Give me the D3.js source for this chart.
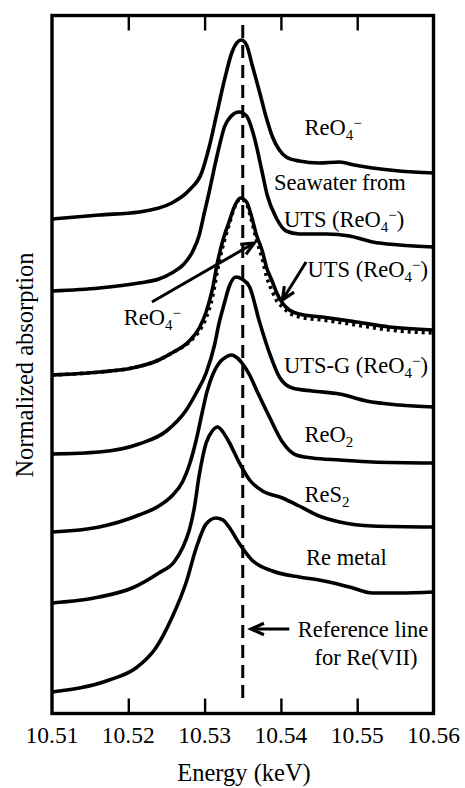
<!DOCTYPE html>
<html><head><meta charset="utf-8">
<script src="https://cdn.jsdelivr.net/npm/d3@7"></script>
<style>html,body{margin:0;padding:0;background:#fff}</style>
</head><body><div id="chart"></div>
<script>
// ---- data (energy in keV, normalized absorption with vertical offsets) ----
const xTicks = [10.51, 10.52, 10.53, 10.54, 10.55, 10.56];
const xTickLabels = ["10.51", "10.52", "10.53", "10.54", "10.55", "10.56"];
const refEnergy = 10.535;

const E1 = [10.510,10.5162,10.5214,10.5257,10.5280,10.5296,10.5306,10.5315,10.5326,10.5336,10.5348,10.5355,10.5362,10.5372,10.5381,10.5389,10.5398,10.5407,10.5424,10.5450,10.5477,10.5496,10.5520,10.5555,10.5600];
const A1 = [4.94,4.98,5.01,5.10,5.23,5.40,5.66,5.96,6.33,6.61,6.73,6.68,6.49,6.21,5.95,5.76,5.63,5.56,5.52,5.50,5.51,5.48,5.45,5.42,5.40];

const E2 = [10.510,10.5162,10.5214,10.5240,10.5257,10.5273,10.5284,10.5293,10.5299,10.5306,10.5313,10.5319,10.5326,10.5335,10.5345,10.5355,10.5365,10.5374,10.5382,10.5394,10.5407,10.5424,10.5460,10.5490,10.5520,10.5555,10.5600];
const A2 = [4.22,4.25,4.30,4.34,4.40,4.49,4.61,4.78,4.98,5.21,5.46,5.66,5.86,5.97,6.01,5.97,5.76,5.46,5.18,4.95,4.82,4.79,4.79,4.77,4.71,4.68,4.66];

const E3 = [10.510,10.5162,10.5205,10.5240,10.5257,10.5280,10.5293,10.5302,10.5310,10.5317,10.5323,10.5332,10.5340,10.5347,10.5355,10.5361,10.5368,10.5376,10.5381,10.5389,10.5394,10.5402,10.5411,10.5424,10.5454,10.5499,10.5542,10.5600];
const A3 = [3.38,3.41,3.45,3.53,3.60,3.72,3.85,4.01,4.23,4.51,4.70,4.91,5.08,5.15,5.11,4.98,4.78,4.61,4.46,4.31,4.21,4.10,4.03,3.99,3.96,3.91,3.86,3.83];
// ReO4- standard (dotted), same energies as E3
const A3ref = [3.38,3.41,3.45,3.53,3.60,3.71,3.82,3.95,4.15,4.43,4.64,4.88,5.07,5.14,5.09,4.94,4.73,4.53,4.37,4.21,4.13,4.06,4.00,3.96,3.93,3.88,3.83,3.80];

const E4 = [10.510,10.5162,10.5214,10.5250,10.5276,10.5289,10.5302,10.5313,10.5319,10.5326,10.5332,10.5341,10.5349,10.5359,10.5372,10.5385,10.5398,10.5415,10.5441,10.5477,10.5512,10.5555,10.5600];
const A4 = [2.59,2.61,2.69,2.82,3.03,3.20,3.40,3.68,3.90,4.10,4.26,4.36,4.34,4.26,3.91,3.60,3.36,3.25,3.22,3.19,3.12,3.08,3.06];

const E5 = [10.510,10.5162,10.5214,10.5240,10.5257,10.5271,10.5280,10.5289,10.5297,10.5303,10.5311,10.5319,10.5328,10.5335,10.5343,10.5349,10.5359,10.5368,10.5385,10.5402,10.5420,10.5441,10.5477,10.5520,10.5600];
const A5 = [1.81,1.86,1.98,2.07,2.17,2.31,2.48,2.73,3.01,3.21,3.39,3.50,3.56,3.58,3.55,3.50,3.38,3.23,2.96,2.71,2.58,2.55,2.53,2.51,2.50];

const E6 = [10.510,10.5162,10.5205,10.5240,10.5260,10.5271,10.5280,10.5286,10.5293,10.5302,10.5310,10.5317,10.5324,10.5332,10.5345,10.5359,10.5376,10.5402,10.5424,10.5450,10.5477,10.5520,10.5600];
const A6 = [1.10,1.16,1.25,1.40,1.51,1.65,1.83,2.03,2.38,2.70,2.82,2.86,2.81,2.71,2.51,2.33,2.22,2.15,2.07,1.97,1.91,1.87,1.86];

const E7 = [10.510,10.5175,10.5210,10.5236,10.5257,10.5276,10.5289,10.5302,10.5315,10.5324,10.5332,10.5345,10.5362,10.5389,10.5424,10.5450,10.5490,10.5520,10.5555,10.5600];
const A7 = [0.21,0.33,0.45,0.65,0.95,1.31,1.65,1.89,1.95,1.93,1.86,1.70,1.53,1.42,1.36,1.33,1.26,1.20,1.20,1.21];

// ---- layout ----
const W = 465, H = 788;
const L = 52, R = 433.5, T = 15.5, B = 713.5;
const FONT = "'Liberation Serif','Times New Roman',serif";

const svg = d3.select("#chart").append("svg").attr("width", W).attr("height", H)
  .style("font-family", FONT);

const x = d3.scaleLinear().domain([10.51, 10.56]).range([L, R]);
const y = d3.scaleLinear().domain([0, 6.98]).range([713, 15]);

const line = d3.line().x(d => x(d[0])).y(d => y(d[1])).curve(d3.curveMonotoneX);
const zip = (a, b) => a.map((v, i) => [v, b[i]]);

const curves = [
  zip(E1, A1), zip(E2, A2), zip(E3, A3), zip(E4, A4), zip(E5, A5), zip(E6, A6), zip(E7, A7)
];

const g = svg.append("g");
g.append("clipPath").attr("id", "clip").append("rect")
  .attr("x", L).attr("y", T).attr("width", R - L).attr("height", B - T);

// reference dashed line
g.append("line")
  .attr("x1", x(refEnergy)).attr("x2", x(refEnergy))
  .attr("y1", y(6.88)).attr("y2", y(0.08))
  .attr("stroke", "#000").attr("stroke-width", 3).attr("stroke-dasharray", "13,7");

// dotted ReO4- standard
g.append("path").datum(zip(E3, A3ref)).attr("d", line)
  .attr("clip-path", "url(#clip)")
  .attr("fill", "none").attr("stroke", "#000").attr("stroke-width", 3.6)
  .attr("stroke-dasharray", "3,4");

// spectra
g.selectAll("path.spec").data(curves).enter().append("path").attr("class", "spec")
  .attr("d", line).attr("clip-path", "url(#clip)")
  .attr("fill", "none").attr("stroke", "#000").attr("stroke-width", 3.6)
  .attr("stroke-linejoin", "round").attr("stroke-linecap", "round");

// frame
svg.append("rect").attr("x", L).attr("y", T).attr("width", R - L).attr("height", B - T)
  .attr("fill", "none").attr("stroke", "#000").attr("stroke-width", 3.4);

// axes (inward ticks, bottom and top)
const inner = xTicks.slice(1, -1);
const axB = d3.axisBottom(x).tickValues(inner).tickSize(-15).tickFormat("");
const axT = d3.axisTop(x).tickValues(inner).tickSize(-15).tickFormat("");
const gb = svg.append("g").attr("transform", `translate(0,${B})`).call(axB);
const gt = svg.append("g").attr("transform", `translate(0,${T})`).call(axT);
[gb, gt].forEach(a => {
  a.select(".domain").remove();
  a.selectAll(".tick line").attr("stroke", "#000").attr("stroke-width", 2.4);
});

// tick labels
svg.append("g").selectAll("text").data(xTicks).enter().append("text")
  .attr("x", d => x(d)).attr("y", 743).attr("text-anchor", "middle")
  .attr("font-size", 23.5).attr("fill", "#000")
  .text((d, i) => xTickLabels[i]);

// axis titles
svg.append("text").attr("x", 244).attr("y", 781).attr("text-anchor", "middle")
  .attr("font-size", 24.5).text("Energy (keV)");
svg.append("text").attr("transform", "translate(33,365) rotate(-90)")
  .attr("text-anchor", "middle").attr("font-size", 24.5).text("Normalized absorption");

// ---- annotations ----
const FS = 22.5;
function label(e, a, parts) {
  const t = svg.append("text").attr("x", x(e)).attr("y", y(a)).attr("font-size", FS);
  parts.forEach(p => {
    const s = t.append("tspan").text(p.t);
    if (p.sub) s.attr("font-size", 15).attr("dy", 5);
    if (p.sup) s.attr("font-size", 15).attr("dy", p.dy || -12);
    if (p.back) s.attr("dy", p.back);
  });
}
const reo4 = [{t: "ReO"}, {t: "4", sub: true}, {t: "\u2212", sup: true, dy: -12}];
label(10.5431, 5.78, reo4);
label(10.5391, 5.23, [{t: "Seawater from"}]);
label(10.5404, 4.86, [{t: "UTS (ReO"}, {t: "4", sub: true}, {t: "\u2212", sup: true, dy: -12}, {t: ")", back: 7}]);
label(10.5435, 4.36, [{t: "UTS (ReO"}, {t: "4", sub: true}, {t: "\u2212", sup: true, dy: -12}, {t: ")", back: 7}]);
label(10.5194, 3.88, reo4);
label(10.5404, 3.40, [{t: "UTS-G (ReO"}, {t: "4", sub: true}, {t: "\u2212", sup: true, dy: -12}, {t: ")", back: 7}]);
label(10.5431, 2.71, [{t: "ReO"}, {t: "2", sub: true}]);
label(10.5431, 2.11, [{t: "ReS"}, {t: "2", sub: true}]);
label(10.5433, 1.48, [{t: "Re metal"}]);
label(10.5422, 0.76, [{t: "Reference line"}]);
label(10.5444, 0.48, [{t: "for Re(VII)"}]);

// arrows
function arrow(e0, a0, e1, a1) {
  const x0 = x(e0), y0 = y(a0), x1 = x(e1), y1 = y(a1);
  const ang = Math.atan2(y1 - y0, x1 - x0);
  const len = 14, spread = 0.42;
  svg.append("line").attr("x1", x0).attr("y1", y0).attr("x2", x1).attr("y2", y1)
    .attr("stroke", "#000").attr("stroke-width", 3);
  const p1 = [x1 - len * Math.cos(ang - spread), y1 - len * Math.sin(ang - spread)];
  const p2 = [x1 - len * Math.cos(ang + spread), y1 - len * Math.sin(ang + spread)];
  svg.append("path").attr("d", `M${p1[0]},${p1[1]}L${x1},${y1}L${p2[0]},${p2[1]}`)
    .attr("fill", "none").attr("stroke", "#000").attr("stroke-width", 3.2)
    .attr("stroke-linejoin", "miter");
}
arrow(10.5231, 4.11, 10.5365, 4.70);
arrow(10.5433, 4.51, 10.5402, 4.13);
arrow(10.5411, 0.84, 10.5361, 0.84);
</script></body></html>
